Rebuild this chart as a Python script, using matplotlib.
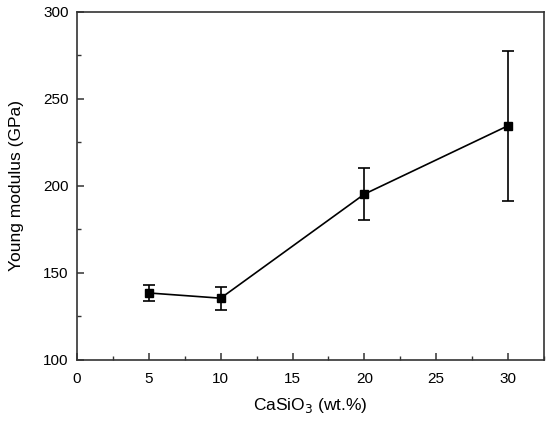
import matplotlib
matplotlib.use("Agg")
import matplotlib.pyplot as plt
from matplotlib.ticker import MultipleLocator

plt.rcParams['font.family'] = ['Liberation Sans', 'DejaVu Sans']

# CaSiO3 content vs Young modulus
casio3 = [5, 10, 20, 30]
modulus = [138.5, 135.5, 195.3, 234.6]
err = [4.5, 6.7, 15.0, 43.0]

fig = plt.figure(figsize=(5.5, 4.26), dpi=100)
ax = fig.add_axes([0.14, 0.155, 0.849, 0.817])

ax.errorbar(casio3, modulus, yerr=err, color='black', lw=1.2,
            marker='s', ms=6, capsize=4, elinewidth=1.2, capthick=1.2)

ax.set_xlim(0, 32.5)
ax.set_ylim(100, 300)
ax.xaxis.set_major_locator(MultipleLocator(5))
ax.xaxis.set_minor_locator(MultipleLocator(2.5))
ax.yaxis.set_major_locator(MultipleLocator(50))
ax.yaxis.set_minor_locator(MultipleLocator(25))
ax.set_xticks([0, 5, 10, 15, 20, 25, 30])

for s in ax.spines.values():
    s.set_color('#333333')
    s.set_linewidth(1.2)
ax.tick_params(which='both', direction='in', color='#333333', labelsize=11)
ax.tick_params(which='major', length=5, width=1.1)
ax.tick_params(which='minor', length=3, width=1.0)
ax.tick_params(axis='x', which='major', pad=9)
ax.tick_params(axis='y', which='major', pad=6)

ax.set_xlabel('CaSiO$_3$ (wt.%)', fontsize=12.5, labelpad=7)
ax.set_ylabel('Young modulus (GPa)', fontsize=12.5, labelpad=14)

fig.savefig('out.png', dpi=100)
